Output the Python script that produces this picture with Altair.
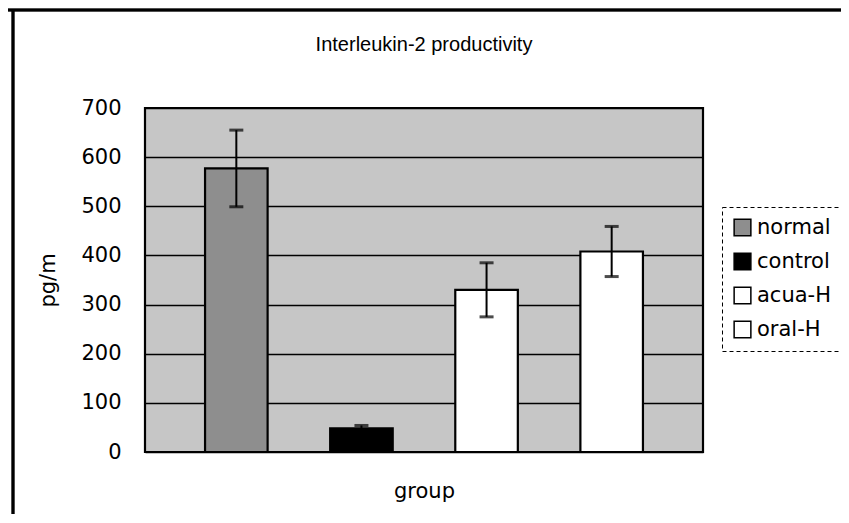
import altair as alt
import pandas as pd

groups = ["normal", "control", "acua-H", "oral-H"]
means = [577, 48, 330, 408]
errors = [78, 6, 55, 51]
fills = ["#8e8e8e", "#000000", "#ffffff", "#ffffff"]
y_ticks = [0, 100, 200, 300, 400, 500, 600, 700]
title_text = "Interleukin-2 productivity"

df = pd.DataFrame({
    "group": groups,
    "mean": means,
    "lo": [m - e for m, e in zip(means, errors)],
    "hi": [m + e for m, e in zip(means, errors)],
})

W, H = 558, 344
FONT = "DejaVu Sans"

x_enc = alt.X("group:N", sort=groups,
              scale=alt.Scale(paddingInner=0.5, paddingOuter=0.48),
              axis=alt.Axis(title="group", labels=False, ticks=False, domain=False,
                            titleFontSize=21, titleFont=FONT, titleFontWeight="normal",
                            titlePadding=28, titleColor="black"))

y_scale = alt.Scale(domain=[0, 700], nice=False)

bars = alt.Chart(df).mark_bar(stroke="black", strokeWidth=2.2).encode(
    x=x_enc,
    y=alt.Y("mean:Q", scale=y_scale,
            axis=alt.Axis(title="pg/m", values=y_ticks, ticks=False, domain=False,
                          grid=True, gridColor="black", gridWidth=1.4, gridOpacity=1,
                          labelFontSize=21, labelFont=FONT, labelColor="black",
                          labelPadding=24, titleFontSize=21, titleFont=FONT,
                          titleFontWeight="normal", titleColor="black", titlePadding=22)),
    color=alt.Color("group:N", sort=groups,
                    scale=alt.Scale(domain=groups, range=fills),
                    legend=alt.Legend(title=None, orient="none", legendX=577, legendY=99,
                                      symbolType="square", symbolSize=280,
                                      symbolStrokeColor="black", symbolStrokeWidth=1.5,
                                      symbolOpacity=1,
                                      labelFontSize=21, labelFont=FONT, labelColor="black",
                                      labelOffset=4,
                                      padding=10, fillColor="white")),
)

err_line = alt.Chart(df).mark_rule(color="black", strokeWidth=2).encode(
    x=alt.X("group:N", sort=groups),
    y=alt.Y("lo:Q", scale=y_scale),
    y2="hi:Q",
)

cap_hi = alt.Chart(df).mark_tick(color="black", thickness=3, size=14, orient="horizontal").encode(
    x=alt.X("group:N", sort=groups),
    y=alt.Y("hi:Q", scale=y_scale),
)
cap_lo = alt.Chart(df).mark_tick(color="black", thickness=3, size=14, orient="horizontal").encode(
    x=alt.X("group:N", sort=groups),
    y=alt.Y("lo:Q", scale=y_scale),
)

frame_top = alt.Chart(df).mark_rule(color="black", strokeWidth=2.5).encode(
    x=alt.value(-137), x2=alt.value(704), y=alt.value(-98))
frame_left = alt.Chart(df).mark_rule(color="black", strokeWidth=2.5).encode(
    x=alt.value(-132), y=alt.value(-98), y2=alt.value(406))

title_mark = alt.Chart(pd.DataFrame({"t": [title_text]})).mark_text(
    font="Liberation Sans", fontSize=20, color="black", baseline="middle", align="center"
).encode(x=alt.value(W / 2), y=alt.value(-63), text="t:N")

chart = alt.layer(bars, err_line, cap_hi, cap_lo, frame_top, frame_left, title_mark).properties(
    width=W, height=H,
    autosize=alt.AutoSizeParams(type="none"),
    padding={"left": 137, "top": 100, "right": 138, "bottom": 70},
    background="white",
).configure_view(
    fill="#c6c6c6", stroke="black", strokeWidth=2.2
).configure_legend(
    strokeColor="black", strokeDash=[4, 3], rowPadding=11
)

chart.save("out.html", embed_options={"renderer": "svg", "actions": False})
